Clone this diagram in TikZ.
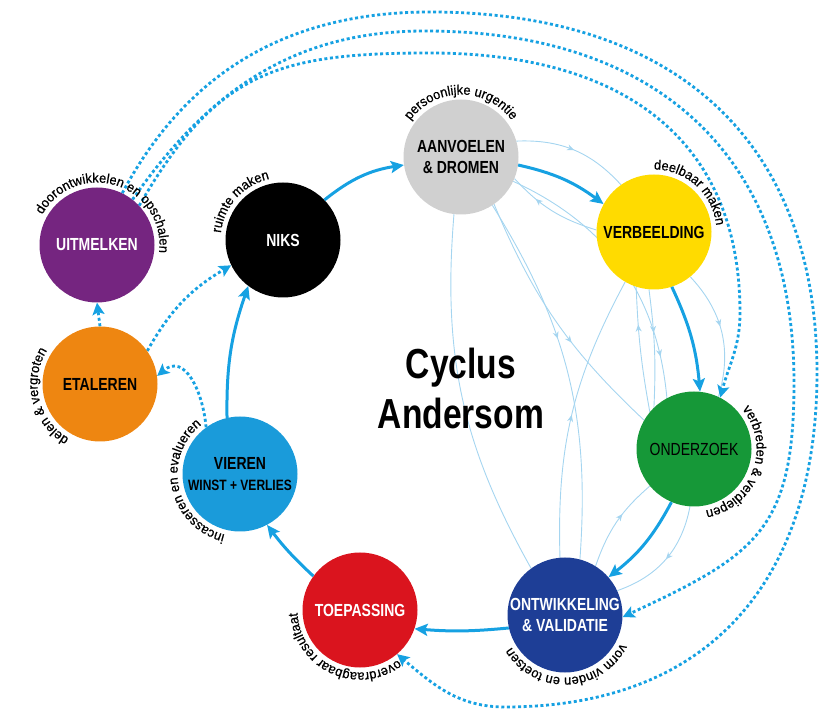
\documentclass[tikz,border=0pt]{standalone}
\usepackage{fontspec}
\setmainfont{Liberation Sans}
\newfontfamily\smalfont[FakeStretch=0.8]{Liberation Sans}
\newfontfamily\boogfamilie[FakeBold=0.6,FakeStretch=0.95]{Liberation Sans}
\usetikzlibrary{arrows.meta,decorations.text,decorations.markings,backgrounds}

\definecolor{grijs}{RGB}{208,208,208}
\definecolor{geel}{RGB}{255,219,0}
\definecolor{groen}{RGB}{22,152,56}
\definecolor{donkerblauw}{RGB}{30,62,150}
\definecolor{rood}{RGB}{218,20,30}
\definecolor{blauw}{RGB}{26,155,218}
\definecolor{oranje}{RGB}{238,134,17}
\definecolor{paars}{RGB}{117,37,128}
\definecolor{pijl}{RGB}{22,161,226}
\definecolor{licht}{RGB}{165,213,240}

\newcommand{\knoopfont}{\smalfont\bfseries\fontsize{17.5}{21}\selectfont}
\newcommand{\knoopdun}{\smalfont\fontsize{17.5}{21}\selectfont}
\newcommand{\titelfont}{\smalfont\bfseries\fontsize{42}{50}\selectfont}
\newcommand{\boogfont}{\boogfamilie\fontsize{13.5}{15}\selectfont}
% text round a circle, #2 = angle of its middle
\newcommand{\boog}[3]{\path[decorate,decoration={text along path,text align=center,text={|\boogfont|#3}}]
	(#1.center) ++(#2+100:62.5) arc[start angle=#2+100, end angle=#2-100, radius=62.5];}

\begin{document}
\begin{tikzpicture}[x=1pt,y=1pt,
	fase/.style={circle, minimum size=115pt, inner sep=0pt, align=center, font=\knoopfont},
	cyclus/.style={draw=pijl, line width=3pt, -{Stealth[length=13pt,width=12pt,inset=2.5pt]}},
	stippel/.style={draw=pijl, line width=2.8pt, dash pattern=on 3pt off 2.6pt, -{Stealth[length=12pt,width=12pt,inset=2.5pt]}},
	terug/.style={color=licht, line width=0.9pt, postaction={decorate,
		decoration={markings, mark=at position #1 with {\arrow{Stealth[length=7pt,width=6pt]}}}}},
	terug/.default=0.5]
	\useasboundingbox (0,0) rectangle (828,713);

	% fasen
	\node[fase, fill=grijs] (aanvoelen) at (461,556) {AANVOELEN\\\& DROMEN};
	\node[fase, fill=geel] (verbeelding) at (654,481) {VERBEELDING};
	\node[fase, fill=groen, font=\knoopdun] (onderzoek) at (694,264) {ONDERZOEK};
	\node[fase, fill=donkerblauw, text=white] (ontwikkeling) at (565,98) {ONTWIKKELING\\\& VALIDATIE};
	\node[fase, fill=rood, text=white] (toepassing) at (360,103) {TOEPASSING};
	\node[fase, fill=blauw] (vieren) at (240,239) {VIEREN\\{\knoopdun\fontsize{15}{18}\selectfont WINST + VERLIES}};
	\node[fase, fill=oranje] (etaleren) at (100,329) {ETALEREN};
	\node[fase, fill=paars, text=white] (uitmelken) at (97,468) {UITMELKEN};
	\node[fase, fill=black, text=white] (niks) at (283,473) {NIKS};

	\node[font=\titelfont, align=center, inner sep=0pt] (titel) at (461,325) {Cyclus\\Andersom};

	\begin{scope}[on background layer]
	% heen en weer
	\draw[terug] (aanvoelen.16) to[bend left=25] (verbeelding.125);
	\draw[terug=0.7] (verbeelding.178) to[bend left=15] (aanvoelen.-22);
	\draw[terug=0.85] (aanvoelen.-25) to[bend left=30] (onderzoek.118);
	\draw[terug=0.6] (aanvoelen.-55) to[bend right=12] (onderzoek.150);
	\draw[terug=0.4] (aanvoelen.-57) to[bend left=18] (ontwikkeling.75);
	\draw[terug=0.47] (ontwikkeling.126) to[bend left=17] (aanvoelen.-97);
	\draw[terug] (ontwikkeling.95) to[bend left=15] (verbeelding.-120);
	\draw[terug=0.37] (verbeelding.-95) to[bend left=5] (onderzoek.134);
	\draw[terug=0.7] (onderzoek.140) to[bend left=4] (verbeelding.-108);
	\draw[terug=0.45] (verbeelding.-51) to[bend left=30] (onderzoek.65);
	\draw[terug] (onderzoek.-94) to[bend left=30] (ontwikkeling.25);
	\draw[terug=0.6] (ontwikkeling.58) to[bend left=15] (onderzoek.-140);

	% stippellijnen
	\draw[stippel] (etaleren.north) -- (uitmelken.south);
	\draw[stippel] (vieren.126) to[out=95,in=40,looseness=1.3] (etaleren.8);
	\draw[stippel] (etaleren.35) to[bend left=15] (niks.206);
	\draw[stippel] (uitmelken.43) to[out=60,in=180,looseness=1.2] (430,660)
		to[out=0,in=90,looseness=1.15] (740,400) to[out=-90,in=75] (onderzoek.63);
	\draw[stippel] (uitmelken.52) to[out=55,in=180] (425,682)
		to[out=0,in=90,looseness=1.15] (794,330) to[out=-90,in=25,looseness=1.3] (ontwikkeling.-2);
	\draw[stippel] (uitmelken.64) to[out=62,in=180] (430,701)
		to[out=0,in=90,looseness=1.15] (817,340) to[out=-90,in=0,looseness=1.15] (505,6)
		to[out=180,in=-40] (toepassing.-50);
	\end{scope}

	% de cyclus
	\draw[cyclus] (niks.44) to[bend left=15] (aanvoelen.188);
	\draw[cyclus] (aanvoelen.-8) to[bend left=12] (verbeelding.151);
	\draw[cyclus] (verbeelding.-72) to[bend left=10] (onderzoek.84);
	\draw[cyclus] (onderzoek.-113) to[bend left=12] (ontwikkeling.41);
	\draw[cyclus] (ontwikkeling.193) to[bend left=5] (toepassing.-19);
	\draw[cyclus] (toepassing.144) to[bend left=5] (vieren.-62);
	\draw[cyclus] (vieren.103) to[bend left=10] (niks.-127);

	% teksten langs de cirkels
	\boog{aanvoelen}{90}{persoonlijke urgentie}
	\boog{verbeelding}{48}{deelbaar maken}
	\boog{onderzoek}{-20}{verbreden {\&} verdiepen}
	\boog{ontwikkeling}{-88}{vorm vinden en toetsen}
	\boog{toepassing}{-115}{overdraagbaar resultaat}
	\boog{vieren}{192}{incasseren en evalueren}
	\boog{etaleren}{194}{delen {\&} vergroten}
	\boog{uitmelken}{72}{doorontwikkelen en opschalen}
	\boog{niks}{138}{ruimte maken}
\end{tikzpicture}
\end{document}
